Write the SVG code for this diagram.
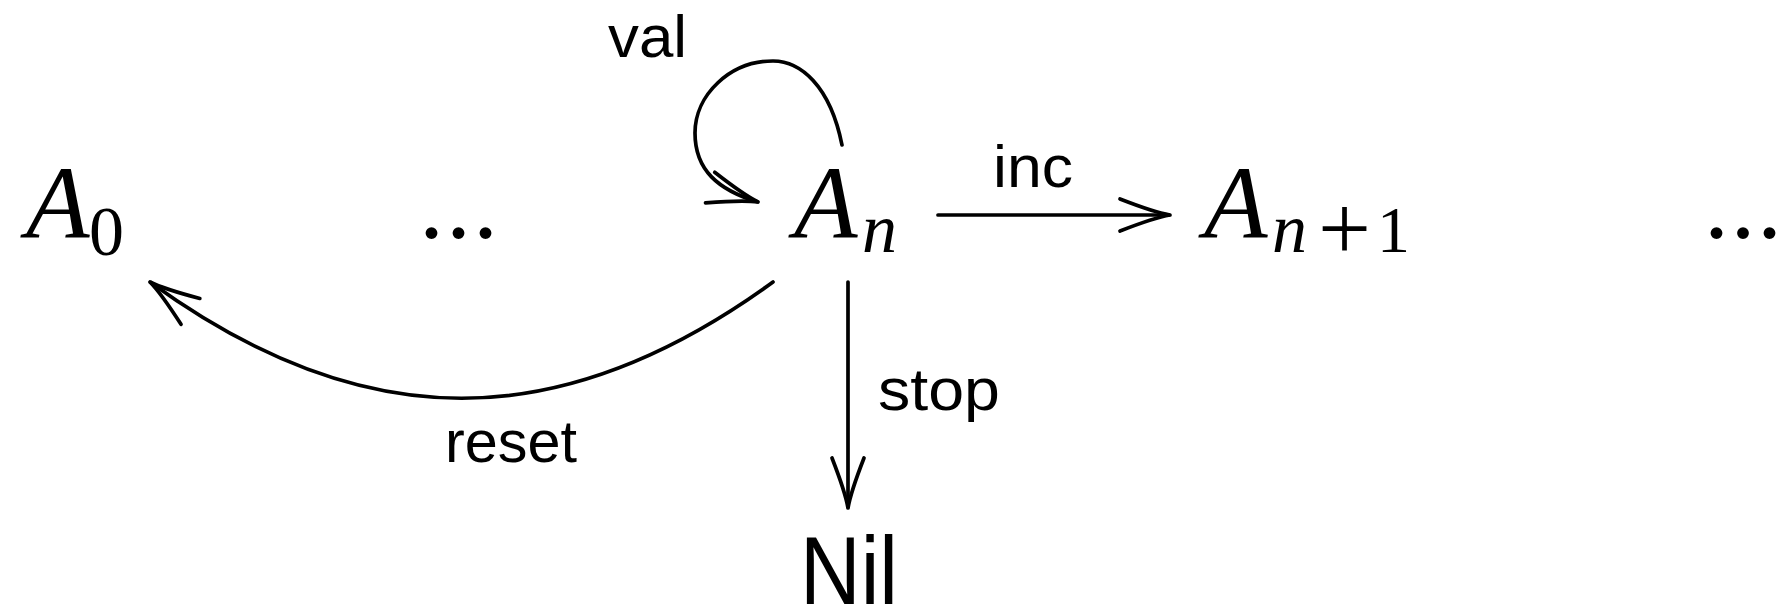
<svg xmlns="http://www.w3.org/2000/svg" width="1781" height="605" viewBox="0 0 1781 605">
<style>
.math{font-family:"Liberation Serif","DejaVu Serif",serif;font-style:italic;fill:#000}
.up{font-family:"Liberation Serif","DejaVu Serif",serif;font-style:normal;fill:#000}
.lbl{font-family:"Liberation Sans","DejaVu Sans",sans-serif;font-size:60px;fill:#000}
.edge{fill:none;stroke:#000;stroke-width:3.7;stroke-linecap:round}
</style>
<defs>
<marker id="to" markerUnits="userSpaceOnUse" markerWidth="70" markerHeight="50" viewBox="-60 -25 70 50" refX="0" refY="0" orient="auto" overflow="visible">
<path d="M -50 -16 C -32 -9, -12 -2, 0 0 C -12 2, -32 9, -50 16" fill="none" stroke="#000" stroke-width="3.7" stroke-linecap="round"/>
</marker>
</defs>
<rect width="1781" height="605" fill="#fff"/>
<g id="connectors">
<path id="e-val" class="edge" d="M 842 145 C 830 85, 800 61, 773 61 C 730 61, 695 95, 695 133 C 695 170, 718 190, 758 202" marker-end="url(#to)"/>
<path id="e-inc" class="edge" d="M 938 215 L 1170 215" marker-end="url(#to)"/>
<path id="e-stop" class="edge" d="M 848 282 L 848 508" marker-end="url(#to)"/>
<path id="e-reset" class="edge" d="M 773 282 C 560 437, 363 437, 150 282" marker-end="url(#to)"/>
<text class="lbl" x="608" y="57" textLength="79" lengthAdjust="spacingAndGlyphs">val</text>
<text class="lbl" x="993" y="187" textLength="80" lengthAdjust="spacingAndGlyphs">inc</text>
<text class="lbl" x="878" y="410" textLength="122" lengthAdjust="spacingAndGlyphs">stop</text>
<text class="lbl" x="445" y="462" textLength="132" lengthAdjust="spacingAndGlyphs">reset</text>
</g>
<g id="node-A0">
<text class="math" x="26" y="238" font-size="104">A</text>
<text class="up" x="89" y="255" font-size="70">0</text>
</g>
<g id="node-dots1">
<text class="up" x="419" y="238" font-size="100" letter-spacing="2">...</text>
</g>
<g id="node-An">
<text class="math" x="794" y="238" font-size="104">A</text>
<text class="math" x="862" y="252" font-size="70">n</text>
</g>
<g id="node-An1">
<text class="math" x="1204" y="238" font-size="104">A</text>
<text class="math" x="1272" y="252" font-size="70">n</text>
<text class="up" x="1318" y="260" font-size="94">+</text>
<text class="up" x="1377" y="252" font-size="66">1</text>
</g>
<g id="node-dots2">
<text class="up" x="1704" y="238" font-size="100" letter-spacing="1.5">...</text>
</g>
<g id="node-Nil">
<text class="lbl" x="800" y="604" style="font-size:96px" textLength="98" lengthAdjust="spacingAndGlyphs">Nil</text>
</g>
</svg>
